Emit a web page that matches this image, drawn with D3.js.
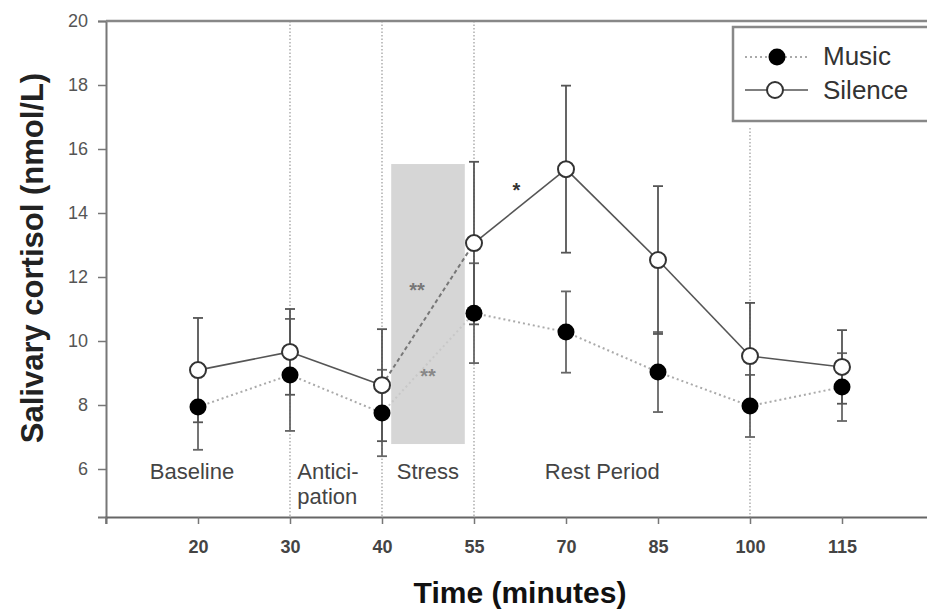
<!DOCTYPE html>
<html>
<head>
<meta charset="utf-8">
<script src="https://cdn.jsdelivr.net/npm/d3@7"></script>
<style>
  body { margin: 0; background: #fff; }
  svg { display: block; font-family: "Liberation Sans", Arial, sans-serif; }
</style>
</head>
<body>
<svg id="chart" width="927" height="610"></svg>
<script>
// time points (minutes) and group means / errors
var times = ["20", "30", "40", "55", "70", "85", "100", "115"];
var silence = [9.09, 9.66, 8.62, 13.06, 15.37, 12.53, 9.53, 9.19];
var silenceErr = [1.63, 1.34, 1.75, 2.54, 2.61, 2.31, 1.66, 1.15];
var music = [7.94, 8.94, 7.75, 10.87, 10.28, 9.03, 7.97, 8.56];
var musicErr = [1.34, 1.75, 1.35, 1.56, 1.27, 1.25, 0.97, 1.06];
var yTicks = [6, 8, 10, 12, 14, 16, 18, 20];
var phaseLines = ["30", "40", "55", "100"];

var svg = d3.select("#chart");

// index based x scale, categories are equally spaced
var x = d3.scaleLinear().domain([-1, 8]).range([106, 934]);
var y = d3.scaleLinear().domain([4.5, 20]).range([517, 21]);
function xi(t) { return x(times.indexOf(t)); }

// stress shaded block
svg.append("rect")
  .attr("x", x(2.1)).attr("width", x(2.9) - x(2.1))
  .attr("y", y(15.53)).attr("height", y(6.78) - y(15.53))
  .attr("fill", "#d6d6d6");

// dotted phase separators
phaseLines.forEach(function(t) {
  svg.append("line")
    .attr("x1", xi(t)).attr("x2", xi(t))
    .attr("y1", t == "100" ? 128 : y(20)).attr("y2", y(4.5))
    .attr("stroke", "#999").attr("stroke-width", 1.2)
    .attr("stroke-dasharray", "1.5,2");
});

// axes
var yAxis = d3.axisLeft(y).tickValues(yTicks).tickSize(8).tickPadding(10);
var gy = svg.append("g").attr("transform", "translate(106,0)").call(yAxis);
gy.select(".domain").attr("stroke", "#777").attr("stroke-width", 2);
gy.selectAll(".tick line").attr("stroke", "#777").attr("stroke-width", 1.5);
gy.selectAll(".tick text").attr("font-size", 18).attr("fill", "#555")
  .attr("font-family", "Liberation Sans, Arial, sans-serif");

var xAxis = d3.axisBottom(x).tickValues(d3.range(0, 8))
  .tickFormat(function(i) { return times[i]; }).tickSize(7).tickPadding(16);
var gx = svg.append("g").attr("transform", "translate(0,517)").call(xAxis);
gx.select(".domain").attr("stroke", "#666").attr("stroke-width", 2);
gx.selectAll(".tick line").attr("stroke", "#777").attr("stroke-width", 1.5);
gx.selectAll(".tick text").attr("font-size", 18).attr("font-weight", "bold")
  .attr("fill", "#444").attr("font-family", "Liberation Sans Narrow, Liberation Sans, Arial, sans-serif");
// tick at left end of x axis
svg.append("line").attr("x1", 106).attr("x2", 106).attr("y1", 517).attr("y2", 524)
  .attr("stroke", "#777").attr("stroke-width", 1.5);

// top frame
svg.append("line").attr("x1", 106).attr("x2", 927).attr("y1", y(20)).attr("y2", y(20))
  .attr("stroke", "#888").attr("stroke-width", 2.5);

// lines
function seg(vals, i) {
  return [[x(i), y(vals[i])], [x(i + 1), y(vals[i + 1])]];
}
var line = d3.line();
for (var i = 0; i < times.length - 1; i++) {
  svg.append("path").attr("d", line(seg(music, i)))
    .attr("fill", "none")
    .attr("stroke", i == 2 ? "#c8c8c8" : "#aaa").attr("stroke-width", 2)
    .attr("stroke-dasharray", "2,3");
  svg.append("path").attr("d", line(seg(silence, i)))
    .attr("fill", "none")
    .attr("stroke", i == 2 ? "#777" : "#555").attr("stroke-width", i == 2 ? 2 : 1.6)
    .attr("stroke-dasharray", i == 2 ? "4,3" : null);
}

// error bars
function errBars(vals, errs, col) {
  vals.forEach(function(v, i) {
    var cx = x(i), top = y(v + errs[i]), bot = y(v - errs[i]);
    svg.append("line").attr("x1", cx).attr("x2", cx).attr("y1", top).attr("y2", bot)
      .attr("stroke", col).attr("stroke-width", 1.8);
    [top, bot].forEach(function(yy) {
      svg.append("line").attr("x1", cx - 5).attr("x2", cx + 5).attr("y1", yy).attr("y2", yy)
        .attr("stroke", col).attr("stroke-width", 1.8);
    });
  });
}
errBars(music, musicErr, "#666");
errBars(silence, silenceErr, "#555");

// markers
svg.selectAll(".music").data(music).enter().append("circle")
  .attr("class", "music")
  .attr("cx", function(d, i) { return x(i); })
  .attr("cy", function(d) { return y(d); })
  .attr("r", 8.5).attr("fill", "#000");
svg.selectAll(".silence").data(silence).enter().append("circle")
  .attr("class", "silence")
  .attr("cx", function(d, i) { return x(i); })
  .attr("cy", function(d) { return y(d); })
  .attr("r", 8).attr("fill", "#fff").attr("stroke", "#333").attr("stroke-width", 2);

// significance marks
svg.append("text").attr("x", x(2.38)).attr("y", 297).text("**")
  .attr("font-size", 20).attr("font-weight", "bold").attr("fill", "#777").attr("text-anchor", "middle");
svg.append("text").attr("x", x(2.5)).attr("y", 383).text("**")
  .attr("font-size", 20).attr("font-weight", "bold").attr("fill", "#888").attr("text-anchor", "middle");
svg.append("text").attr("x", x(3.46)).attr("y", 197).text("*")
  .attr("font-size", 20).attr("font-weight", "bold").attr("fill", "#333").attr("text-anchor", "middle");

// phase labels
var phase = svg.append("g").attr("font-size", 22).attr("fill", "#444");
phase.append("text").attr("x", x(-0.065)).attr("y", 479).attr("text-anchor", "middle").text("Baseline");
phase.append("text").attr("x", x(1.08)).attr("y", 479).text("Antici-");
phase.append("text").attr("x", x(1.08)).attr("y", 504).text("pation");
phase.append("text").attr("x", x(2.16)).attr("y", 479).text("Stress");
phase.append("text").attr("x", x(3.77)).attr("y", 479).text("Rest Period");

// axis titles
svg.append("text").attr("x", 520).attr("y", 603).attr("text-anchor", "middle")
  .attr("font-size", 30).attr("font-weight", "bold").attr("fill", "#111")
  .text("Time (minutes)");
svg.append("text").attr("transform", "translate(43,258) rotate(-90)")
  .attr("text-anchor", "middle").attr("font-size", 31).attr("font-weight", "bold").attr("fill", "#222")
  .text("Salivary cortisol (nmol/L)");

// legend
var lg = svg.append("g");
lg.append("rect").attr("x", 733).attr("y", 27).attr("width", 260).attr("height", 94)
  .attr("fill", "#fff").attr("stroke", "#888").attr("stroke-width", 2.5);
lg.append("line").attr("x1", 745).attr("x2", 808).attr("y1", 57).attr("y2", 57)
  .attr("stroke", "#aaa").attr("stroke-width", 2).attr("stroke-dasharray", "2,3");
lg.append("circle").attr("cx", 777).attr("cy", 57).attr("r", 8.5).attr("fill", "#000");
lg.append("line").attr("x1", 745).attr("x2", 808).attr("y1", 90).attr("y2", 90)
  .attr("stroke", "#555").attr("stroke-width", 1.6);
lg.append("circle").attr("cx", 775).attr("cy", 90).attr("r", 8).attr("fill", "#fff")
  .attr("stroke", "#333").attr("stroke-width", 2);
lg.append("text").attr("x", 823).attr("y", 65).attr("font-size", 26).attr("fill", "#333").text("Music");
lg.append("text").attr("x", 823).attr("y", 99).attr("font-size", 26).attr("fill", "#333").text("Silence");
</script>
</body>
</html>
